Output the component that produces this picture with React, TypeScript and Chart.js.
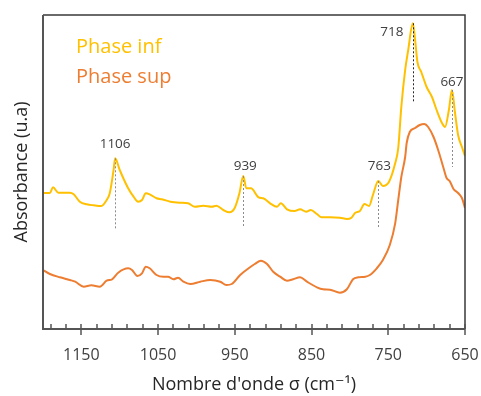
import React, { useEffect, useRef } from "react";
import { Chart, registerables } from "chart.js";

Chart.register(...registerables);

// Phase inf (yellow) spectrum
const infWavenumbers = [1200, 1191, 1187, 1180, 1165, 1160, 1152, 1143, 1134, 1124, 1117, 1113, 1108, 1106, 1100, 1089, 1082, 1076, 1071, 1066, 1061, 1052, 1045, 1034, 1022, 1011, 1002, 991, 980, 974, 965, 957, 950, 944, 939, 935, 929, 919, 913, 904, 895, 890, 882, 872, 865, 857, 851, 843, 837, 826, 813, 804, 798, 793, 787, 781, 775, 770, 763, 757, 749, 741, 737, 733, 728, 724, 718, 715, 712, 707, 700, 693, 687, 680, 676, 671, 667, 663, 659, 654, 650];
const infAbsorbance = [137, 137, 142.7, 137.3, 137.3, 135.7, 128.3, 125.7, 124.7, 124, 130, 136.7, 160, 171.7, 160, 141.7, 133.3, 128.3, 130, 136.7, 135.7, 131.7, 130.7, 128.3, 127.3, 126.7, 123.3, 124.3, 123.3, 124.3, 120, 117.7, 122.3, 136.7, 154, 141.7, 141.7, 132.7, 131.7, 126.7, 123.3, 126.7, 120.7, 119, 120.7, 118.3, 120, 116, 112.7, 112.7, 112.3, 111, 112.3, 117.3, 119, 126, 124, 135, 149, 144, 148.3, 166.7, 182, 223, 260, 280, 306.7, 290, 268, 258, 243, 233, 220, 207, 203, 220, 240, 217, 195, 183, 174];

// Phase sup (orange) spectrum
const supWavenumbers = [1200, 1191, 1178, 1165, 1158, 1147, 1137, 1126, 1117, 1110, 1102, 1089, 1084, 1077, 1071, 1066, 1061, 1052, 1043, 1037, 1030, 1024, 1017, 1008, 995, 982, 969, 961, 954, 943, 932, 924, 916, 908, 900, 891, 882, 874, 865, 856, 843, 835, 826, 813, 804, 796, 789, 780, 774, 765, 757, 748, 741, 737, 733, 728, 726, 722, 715, 709, 703, 698, 691, 685, 678, 674, 670, 665, 659, 654, 650];
const supAbsorbance = [60, 56, 52.7, 50, 48.3, 43.3, 44.7, 43.3, 49.3, 50.7, 57.3, 61.7, 60, 54, 56.7, 63.3, 61.7, 55, 53.3, 53.3, 50.7, 52.3, 48.3, 46, 48.3, 50, 48.3, 45, 46, 55, 61.7, 66, 69.3, 66, 58.3, 53.3, 49.3, 50.7, 52.7, 48.3, 42.7, 40.7, 40.3, 37.3, 40.7, 50.7, 52.7, 53.3, 55, 61.7, 70, 85, 106.7, 130, 153, 173, 187, 198, 202, 205, 206, 203, 193, 180, 162, 152, 149, 141, 137, 132, 122];

const seriesNames = ["Phase inf", "Phase sup"];

// x axis
const xTickValues = [1150, 1050, 950, 850, 750, 650];
const xMinorTickValues = [1190, 1170, 1150, 1130, 1110, 1090, 1070, 1050, 1030, 1010, 990, 970, 950, 930, 910, 890, 870, 850, 830, 810, 790, 770, 750, 730, 710, 690, 670, 650];

// peak annotations
const peakWavenumbers = [1106, 939, 763, 718, 667];
const peakLabels = ["1106", "939", "763", "718", "667"];
const peakLineTop = [171.7, 154, 149, 306.7, 240];
const peakLineBottom = [100, 103, 101, 228, 163];

// label offsets (style)
const LABEL_OFFSETS = [
  [0, -14],
  [2, -10],
  [1, -15],
  [-21, 9],
  [0, -8],
];
const PEAK_DASH_COLORS = ["#8c8c8c", "#8c8c8c", "#8c8c8c", "#262626", "#8c8c8c"];

const YELLOW = "#FFC000";
const ORANGE = "#ED7D31";
const FONT = "'Open Sans', 'DejaVu Sans', sans-serif";

const decorPlugin = {
  id: "decor",
  afterDatasetsDraw(chart: any) {
    const { ctx, chartArea } = chart;
    const xs = chart.scales.x;
    const ys = chart.scales.y;
    const { left, right, top, bottom } = chartArea;
    ctx.save();

    // dashed peak lines
    peakWavenumbers.forEach((w, i) => {
      const px = Math.round(xs.getPixelForValue(w)) + 0.5;
      ctx.beginPath();
      ctx.setLineDash([2, 2]);
      ctx.lineWidth = 1;
      ctx.strokeStyle = PEAK_DASH_COLORS[i];
      ctx.moveTo(px, ys.getPixelForValue(peakLineTop[i]));
      ctx.lineTo(px, ys.getPixelForValue(peakLineBottom[i]));
      ctx.stroke();
    });
    ctx.setLineDash([]);

    // peak labels
    ctx.font = `13.5px ${FONT}`;
    ctx.fillStyle = "#404040";
    ctx.textAlign = "center";
    ctx.textBaseline = "middle";
    peakWavenumbers.forEach((w, i) => {
      const px = xs.getPixelForValue(w) + LABEL_OFFSETS[i][0];
      const py = ys.getPixelForValue(peakLineTop[i]) + LABEL_OFFSETS[i][1];
      ctx.fillText(peakLabels[i], px, py);
    });

    // frame
    ctx.lineWidth = 1.5;
    ctx.strokeStyle = "#3a3a3a";
    ctx.beginPath();
    ctx.moveTo(left, top);
    ctx.lineTo(right, top);
    ctx.lineTo(right, bottom);
    ctx.stroke();
    ctx.lineWidth = 2;
    ctx.strokeStyle = "#555555";
    ctx.beginPath();
    ctx.moveTo(left, top);
    ctx.lineTo(left, bottom);
    ctx.lineTo(right, bottom);
    ctx.stroke();

    // ticks
    ctx.lineWidth = 1.5;
    ctx.strokeStyle = "#555555";
    xMinorTickValues.forEach((v) => {
      const px = Math.round(xs.getPixelForValue(v));
      const major = xTickValues.includes(v);
      ctx.beginPath();
      ctx.moveTo(px, bottom - 5);
      ctx.lineTo(px, major ? bottom + 6 : bottom);
      ctx.stroke();
    });

    // legend text
    ctx.font = `20px ${FONT}`;
    ctx.textAlign = "left";
    ctx.textBaseline = "alphabetic";
    ctx.fillStyle = YELLOW;
    ctx.fillText(chart.data.datasets[0].label, left + 33, 53);
    ctx.fillStyle = ORANGE;
    ctx.fillText(chart.data.datasets[1].label, left + 33, 83);

    ctx.restore();
  },
};

export default function App() {
  const canvasRef = useRef<HTMLCanvasElement | null>(null);

  useEffect(() => {
    const canvas = canvasRef.current;
    if (!canvas) return;
    const chart = new Chart(canvas, {
      type: "line",
      data: {
        datasets: [
          {
            label: seriesNames[0],
            data: infWavenumbers.map((x, i) => ({ x, y: infAbsorbance[i] })),
            borderColor: YELLOW,
            borderWidth: 2,
            pointRadius: 0,
            cubicInterpolationMode: "monotone",
            fill: false,
          },
          {
            label: seriesNames[1],
            data: supWavenumbers.map((x, i) => ({ x, y: supAbsorbance[i] })),
            borderColor: ORANGE,
            borderWidth: 2,
            pointRadius: 0,
            cubicInterpolationMode: "monotone",
            fill: false,
          },
        ],
      },
      options: {
        animation: false,
        responsive: false,
        devicePixelRatio: 1,
        events: [],
        layout: { padding: { top: 15, right: 16, left: 0, bottom: 0 } },
        plugins: {
          legend: { display: false },
          tooltip: { enabled: false },
        },
        scales: {
          x: {
            type: "linear",
            reverse: true,
            min: 650,
            max: 1200,
            afterBuildTicks: (s: any) => {
              s.ticks = xTickValues.map((v) => ({ value: v }));
            },
            afterFit: (s: any) => {
              s.height = 67;
              s.paddingLeft = 0;
              s.paddingRight = 0;
            },
            grid: { display: false, drawTicks: false },
            border: { display: false },
            ticks: {
              autoSkip: false,
              maxRotation: 0,
              padding: 17,
              color: "#404040",
              font: { family: FONT, size: 16 },
              callback: (v: any) => String(v),
            },
            title: {
              display: true,
              text: "Nombre d'onde σ (cm⁻¹)",
              color: "#262626",
              font: { family: FONT, size: 18 },
              padding: { top: 0, bottom: 0 },
            },
          },
          y: {
            type: "linear",
            min: 1,
            max: 315,
            afterFit: (s: any) => {
              s.width = 43;
              s.paddingTop = 0;
              s.paddingBottom = 0;
            },
            grid: { display: false, drawTicks: false },
            border: { display: false },
            ticks: { display: false },
            title: {
              display: true,
              text: "Absorbance (u.a)",
              color: "#262626",
              font: { family: FONT, size: 18 },
              padding: { top: 11, bottom: 0 },
            },
          },
        },
      },
      plugins: [decorPlugin],
    });
    return () => chart.destroy();
  }, []);

  return (
    <div style={{ position: "fixed", left: 0, top: 0, width: 481, height: 396, background: "#fff" }}>
      <canvas ref={canvasRef} width={481} height={396} style={{ display: "block" }} />
    </div>
  );
}
